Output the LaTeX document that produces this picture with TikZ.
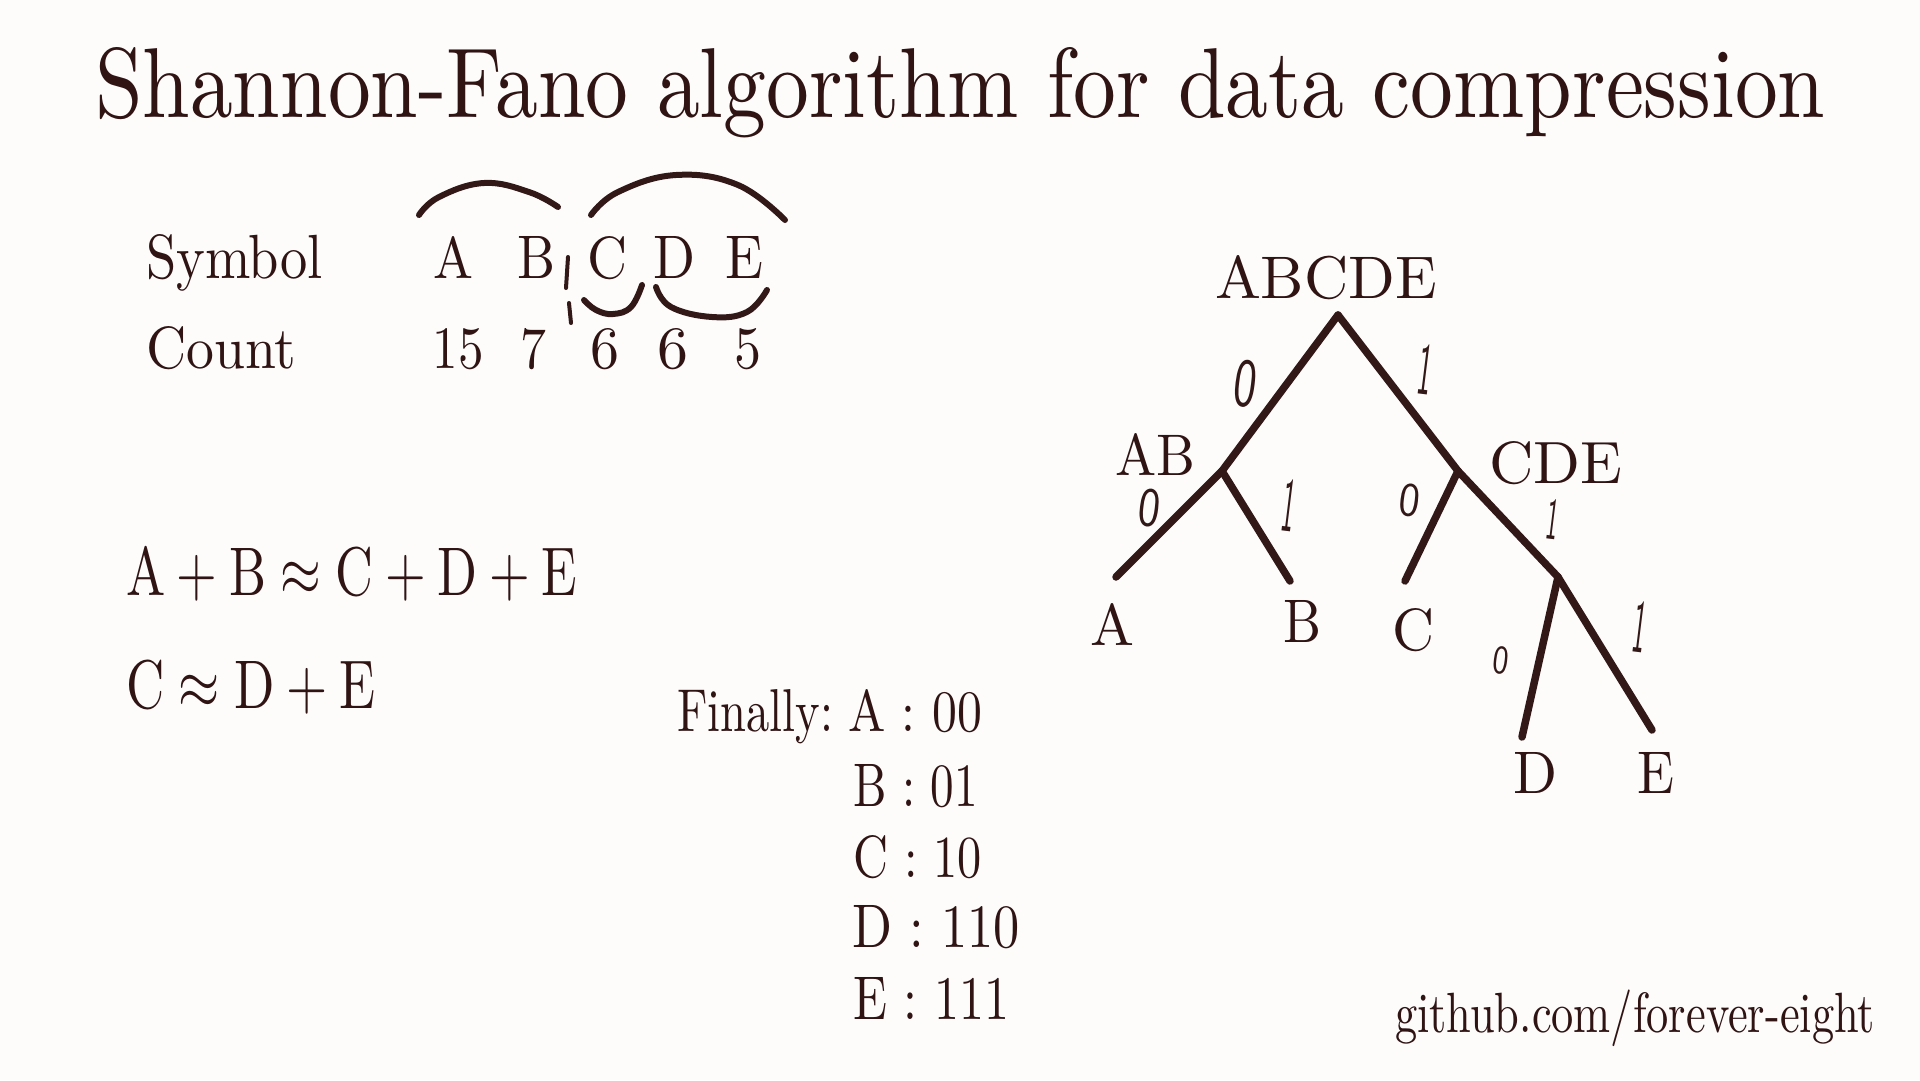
\documentclass[tikz,border=0pt]{standalone}
\usepackage{graphicx}
\definecolor{ink}{HTML}{301414}
\definecolor{pencil}{HTML}{331818}
\definecolor{paper}{HTML}{FDFCFB}
\newcommand{\fitbox}[3]{\resizebox{#1pt}{#2pt}{#3}}
\begin{document}
\begin{tikzpicture}[x=1pt,y=-1pt,
  txt/.style={inner sep=0pt, outer sep=0pt, text=ink, anchor=base west},
  ctxt/.style={inner sep=0pt, outer sep=0pt, text=ink, anchor=base},
  digit/.style={inner sep=0pt, outer sep=0pt, text=pencil, font=\sffamily, rotate=-7},
  stroke/.style={draw=pencil, line width=7.5pt, line cap=round, line join=round},
  arcstroke/.style={draw=pencil, line width=6pt, line cap=round}]
\fill[paper] (0,0) rectangle (1920,1080);
\useasboundingbox (0,0) rectangle (1920,1080);

% title
\node[txt] (title) at (95,117) {\fitbox{1730}{70}{Shannon-Fano algorithm for data compression}};

% table
\node[txt] (symbol) at (146,278) {\fitbox{177}{44}{Symbol}};
\node[txt] (count) at (146,368) {\fitbox{150}{42}{Count}};
\node[ctxt] (sA) at (453,278) {\fitbox{40}{42}{A}};
\node[ctxt] (sB) at (536,278) {\fitbox{38}{42}{B}};
\node[ctxt] (sC) at (607,278) {\fitbox{40}{42}{C}};
\node[ctxt] (sD) at (675,278) {\fitbox{42}{42}{D}};
\node[ctxt] (sE) at (744,278) {\fitbox{38}{42}{E}};
\node[ctxt] (n15) at (458,368) {\fitbox{51}{40}{15}};
\node[ctxt] (n7) at (533,368) {\fitbox{26}{40}{7}};
\node[ctxt] (n6a) at (605,368) {\fitbox{29}{40}{6}};
\node[ctxt] (n6b) at (673,368) {\fitbox{31}{40}{6}};
\node[ctxt] (n5) at (748,368) {\fitbox{27}{40}{5}};

% grouping marks
\draw[arcstroke] plot[smooth, tension=0.7] coordinates {(419,215) (439,197) (484,183) (529,192) (558,207)};
\draw[arcstroke] plot[smooth, tension=0.7] coordinates {(591,215) (618,192) (676,175) (738,185) (785,220)};
\draw[arcstroke] plot[smooth, tension=0.7] coordinates {(584,300) (596,310) (613,314) (631,307) (642,285)};
\draw[arcstroke] plot[smooth, tension=0.7] coordinates {(656,287) (671,307) (712,317) (747,312) (767,290)};
\draw[arcstroke, line width=4pt] (568,257) -- (566,288);
\draw[arcstroke, line width=4pt] (569,303) -- (571,323);

% equations
\node[txt] (eq1) at (126,595) {\fitbox{451}{47}{$\mathrm{A}+\mathrm{B}\approx\mathrm{C}+\mathrm{D}+\mathrm{E}$}};
\node[txt] (eq2) at (126,708) {\fitbox{250}{47}{$\mathrm{C}\approx\mathrm{D}+\mathrm{E}$}};

% final codes
\node[txt] (fin) at (677,731) {\fitbox{156}{42}{Finally:}};
\node[txt] (cA) at (848,731) {\fitbox{134}{42}{A : 00}};
\node[txt] (cB) at (853,806) {\fitbox{125}{42}{B : 01}};
\node[txt] (cC) at (853,877) {\fitbox{129}{42}{C : 10}};
\node[txt] (cD) at (852,947) {\fitbox{168}{42}{D : 110}};
\node[txt] (cE) at (853,1019) {\fitbox{156}{42}{E : 111}};

% credit
\node[txt] (gh) at (1395,1032) {\fitbox{480}{40}{github.com\smash{/}forever-eight}};

% tree junctions and ends
\coordinate (root) at (1338,315);
\coordinate (jab) at (1222,471);
\coordinate (jcde) at (1458,471);
\coordinate (jde) at (1558,577);
\coordinate (ea) at (1116,577);
\coordinate (eb) at (1290,581);
\coordinate (ec) at (1405,581);
\coordinate (ed) at (1522,737);
\coordinate (ee) at (1652,730);

\draw[stroke] (root) -- (jab);
\draw[stroke] (root) -- (jcde);
\draw[stroke] (jab) -- (ea);
\draw[stroke] (jab) -- (eb);
\draw[stroke] (jcde) -- (ec);
\draw[stroke] (jcde) -- (jde);
\draw[stroke] (jde) -- (ed);
\draw[stroke] (jde) -- (ee);

% tree labels
\node[txt] (tABCDE) at (1215,298) {\fitbox{222}{43}{ABCDE}};
\node[txt] (tAB) at (1115,475) {\fitbox{80}{42}{AB}};
\node[txt] (tCDE) at (1489,483) {\fitbox{133}{42}{CDE}};
\node[txt] (tA) at (1090,645) {\fitbox{44}{42}{A}};
\node[txt] (tB) at (1283,642) {\fitbox{38}{42}{B}};
\node[txt] (tC) at (1392,650) {\fitbox{42}{42}{C}};
\node[txt] (tD) at (1513,793) {\fitbox{44}{41}{D}};
\node[txt] (tE) at (1637,793) {\fitbox{37}{41}{E}};

% edge digits
\node[digit] (d1) at (1246,384) {\fitbox{23}{46}{0}};
\node[digit] (d2) at (1425,370) {\fitbox{14}{50}{1}};
\node[digit] (d3) at (1150,508) {\fitbox{22}{37}{0}};
\node[digit] (d4) at (1289,505) {\fitbox{13}{52}{1}};
\node[digit] (d5) at (1410,500) {\fitbox{21}{32}{0}};
\node[digit] (d6) at (1553,519) {\fitbox{12}{40}{1}};
\node[digit] (d7) at (1501,660) {\fitbox{16}{27}{0}};
\node[digit] (d8) at (1640,627) {\fitbox{13}{51}{1}};
\end{tikzpicture}
\end{document}
